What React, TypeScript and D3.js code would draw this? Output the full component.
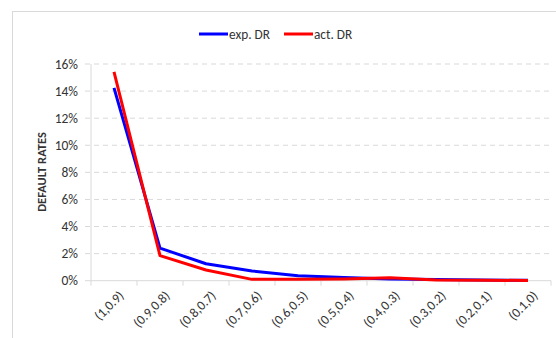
import React from "react";
import * as d3 from "d3";

const categories = ["(1,0.9)", "(0.9,0.8)", "(0.8,0.7)", "(0.7,0.6)", "(0.6,0.5)", "(0.5,0.4)", "(0.4,0.3)", "(0.3,0.2)", "(0.2,0.1)", "(0.1,0)"];
const expDR = [0.1424, 0.0241, 0.0125, 0.0072, 0.0037, 0.0024, 0.0012, 0.0008, 0.0005, 0.0003];
const actDR = [0.1542, 0.0185, 0.0079, 0.0010, 0.0010, 0.0013, 0.0022, 0.0005, 0.0003, 0.0002];
const yTicks = [0, 0.02, 0.04, 0.06, 0.08, 0.1, 0.12, 0.14, 0.16];
const seriesNames = ["exp. DR", "act. DR"];
const seriesColors = ["#0000ff", "#ff0000"];

const W = 556, H = 338;
const left = 91, right = 551, top = 64, bottom = 280.7;
const FONT = "Carlito, Calibri, 'Open Sans', 'Liberation Sans', sans-serif";

export default function App() {
  const x = d3.scaleBand<string>().domain(categories).range([left, right]).padding(0);
  const y = d3.scaleLinear().domain([0, 0.16]).range([bottom, top]);
  const line = d3.line<number>()
    .x((_, i) => (x(categories[i]) as number) + x.bandwidth() / 2)
    .y((d) => y(d));
  const fmt = d3.format(".0%");
  const series = [expDR, actDR];
  const boundaries = categories.map((c) => x(c) as number).concat([right]);

  return (
    <svg width={W} height={H} style={{ position: "absolute", left: 0, top: 0, background: "#fff" }}>
      <rect x={12.5} y={11.5} width={W} height={H} fill="#fff" stroke="#d9d9d9" strokeWidth={1} />
      {seriesNames.map((n, i) => {
        const lx = i === 0 ? 199 : 284;
        return (
          <g key={n}>
            <line x1={lx} x2={lx + 29} y1={34} y2={34} stroke={seriesColors[i]} strokeWidth={3} />
            <text x={lx + 30} y={38.5} fontFamily={FONT} fontSize={13.3} fill="#333">{n}</text>
          </g>
        );
      })}
      {yTicks.map((t) => (
        <g key={t}>
          {t > 0 && (
            <line x1={85} x2={right} y1={y(t)} y2={y(t)} stroke="#d9d9d9" strokeWidth={1} strokeDasharray="5,4" />
          )}
          <text x={78} y={y(t) + 4.5} textAnchor="end" fontFamily={FONT} fontSize={13.5} fill="#333">{fmt(t)}</text>
        </g>
      ))}
      <line x1={left} x2={left} y1={top} y2={bottom} stroke="#d9d9d9" strokeWidth={1} />
      <line x1={85} x2={right} y1={bottom} y2={bottom} stroke="#d9d9d9" strokeWidth={1} />
      {boundaries.map((b, i) => (
        <line key={i} x1={b} x2={b} y1={bottom} y2={bottom + 5} stroke="#d9d9d9" strokeWidth={1} />
      ))}
      {categories.map((c) => {
        const cx = (x(c) as number) + x.bandwidth() / 2 + 4;
        const cy = bottom + 9;
        return (
          <text key={c} x={cx} y={cy} transform={`rotate(-45 ${cx} ${cy})`} textAnchor="end" dy="0.7em"
            fontFamily={FONT} fontSize={13.3} fill="#333">{c}</text>
        );
      })}
      <text transform={`translate(45.5 172) rotate(-90)`} textAnchor="middle" fontFamily={FONT} fontSize={12.5}
        fontWeight="bold" fill="#333">DEFAULT RATES</text>
      {series.map((s, i) => (
        <path key={i} d={line(s) as string} fill="none" stroke={seriesColors[i]} strokeWidth={3} strokeLinejoin="round" />
      ))}
    </svg>
  );
}
